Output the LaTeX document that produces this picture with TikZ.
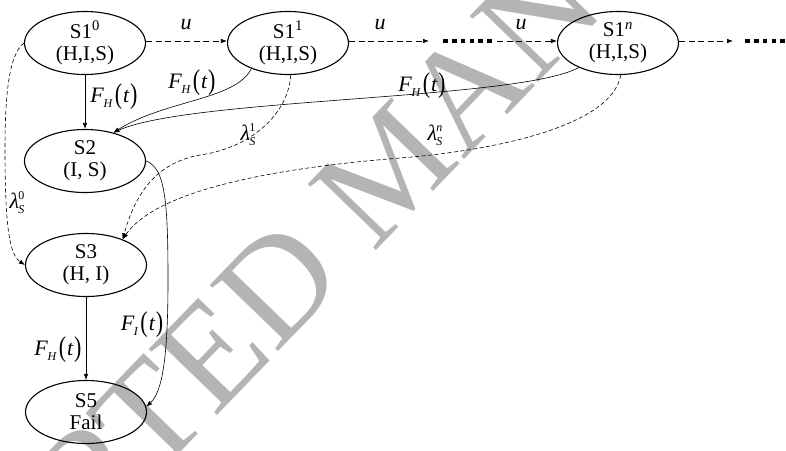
\documentclass[tikz,border=0pt]{standalone}
\usepackage{fontspec}
\setmainfont{Liberation Serif}
\usepackage{graphicx}
\usetikzlibrary{shapes.geometric,arrows.meta}
\newcommand{\FF}[1]{\textit{F}\kern-0.5pt\raisebox{-4.5pt}{\fontsize{12}{12}\selectfont\textit{#1}}\kern2pt\raisebox{-1pt}{\scalebox{1}[1.3]{(}}\kern1pt\textit{t}\kern0.5pt\raisebox{-1pt}{\scalebox{1}[1.3]{)}}}
\newcommand{\LS}[1]{\textit{λ}\kern-1pt\rlap{\raisebox{9pt}{\fontsize{12}{12}\selectfont #1}}\raisebox{-5pt}{\fontsize{12}{12}\selectfont\textit{S}}}
\newcommand{\onedot}{\rule{4.6pt}{4.6pt}}
\newcommand{\dotrow}{\onedot\hspace{4.2pt}\onedot\hspace{4.2pt}\onedot\hspace{4.2pt}\onedot\hspace{4.2pt}\onedot\hspace{4.2pt}\onedot}
\definecolor{wmgray}{RGB}{180,180,180}
\tikzset{
  state/.style={ellipse, draw, line width=1.1pt, minimum width=121pt, minimum height=63pt, inner sep=0pt, align=center, font=\fontsize{21}{22}\selectfont},
  lbl/.style={inner sep=0pt, font=\fontsize{22}{22}\selectfont},
  conn/.style={line width=0.6pt, -{Latex[length=6pt,width=4.5pt]}},
  dconn/.style={conn, dash pattern=on 6pt off 3.5pt},
  tconn/.style={conn, dash pattern=on 4pt off 2.5pt},
  dotsbox/.style={inner sep=0pt},
  wm/.style={text=wmgray, inner sep=0pt, font=\fontsize{145}{145}\selectfont}
}
\begin{document}
\begin{tikzpicture}[x=1pt,y=-1pt]
\useasboundingbox (0,0) rectangle (786,450);
\begin{scope}
\clip (0,0) rectangle (786,450);
\node[wm, rotate=46, anchor=base west] (wm) at (-172.3,818.3) {ACCEPTED MANUSCRIPT};
\end{scope}
% states
\node[state] (s10) at (85,43) {S1\textsuperscript{0}\\(H,I,S)};
\node[state] (s11) at (288,43) {S1\textsuperscript{1}\\(H,I,S)};
\node[state] (s1n) at (618,43) {S1\textsuperscript{\textit{n}}\\(H,I,S)};
\node[state] (s2) at (85,161) {S2\\(I, S)};
\node[state] (s3) at (86,265) {S3\\(H, I)};
\node[state] (s5) at (86,412) {S5\\Fail};
% dots
\node[dotsbox] (dots1) at (467.5,41) {\dotrow};
\node[dotsbox, anchor=west] (dots2) at (745,41) {\dotrow};
% top row
\draw[dconn] (s10.east |- 0,41) -- (s11.west |- 0,41);
\draw[dconn] (s11.east |- 0,41) -- ([xshift=-14pt]dots1.west);
\draw[dconn] ([xshift=5pt]dots1.east) -- (s1n.west |- 0,41);
\draw[dconn] (s1n.east |- 0,41) -- ([xshift=-12pt]dots2.west);
\node[lbl] (u1) at (186,25) {\textit{u}};
\node[lbl] (u2) at (380,25) {\textit{u}};
\node[lbl] (u3) at (521,25) {\textit{u}};
% FH transitions to S2
\draw[conn] (s10.south) -- (s2.north);
\node[lbl] (l1) at (114,97) {\FF{H}};
\draw[conn] (s11.215) .. controls (236,100) and (165,100) .. (s2.45);
\node[lbl] (l2) at (192,83) {\FF{H}};
\draw[conn] (s1n.212) .. controls (520,100) and (190,98) .. (s2.45);
\node[lbl] (l3) at (422,86) {\FF{H}};
% lambda transitions to S3
\draw[tconn] (s10.west) .. controls (8,55) and (5,100) .. (5,150) .. controls (5,230) and (10,255) .. (s3.west);
\node[lbl] (l4) at (17,203) {\LS{0}};
\draw[tconn] (s11.275) .. controls (288,115) and (250,148) .. (200,155) .. controls (155,163) and (135,195) .. (s3.35);
\node[lbl] (l5) at (248,135) {\LS{1}};
\draw[tconn] (s1n.275) .. controls (612,125) and (500,150) .. (400,158) .. controls (300,166) and (160,185) .. (s3.35);
\node[lbl] (l6) at (435,135) {\LS{\textit{n}}};
% to S5
\draw[conn] (s2.east) .. controls (165,168) and (168,200) .. (168,280) .. controls (168,360) and (162,392) .. (s5.5);
\node[lbl] (l7) at (142,325) {\FF{I}};
\draw[conn] (s3.south) -- (s5.north);
\node[lbl] (l8) at (58,350) {\FF{H}};
\end{tikzpicture}
\end{document}
